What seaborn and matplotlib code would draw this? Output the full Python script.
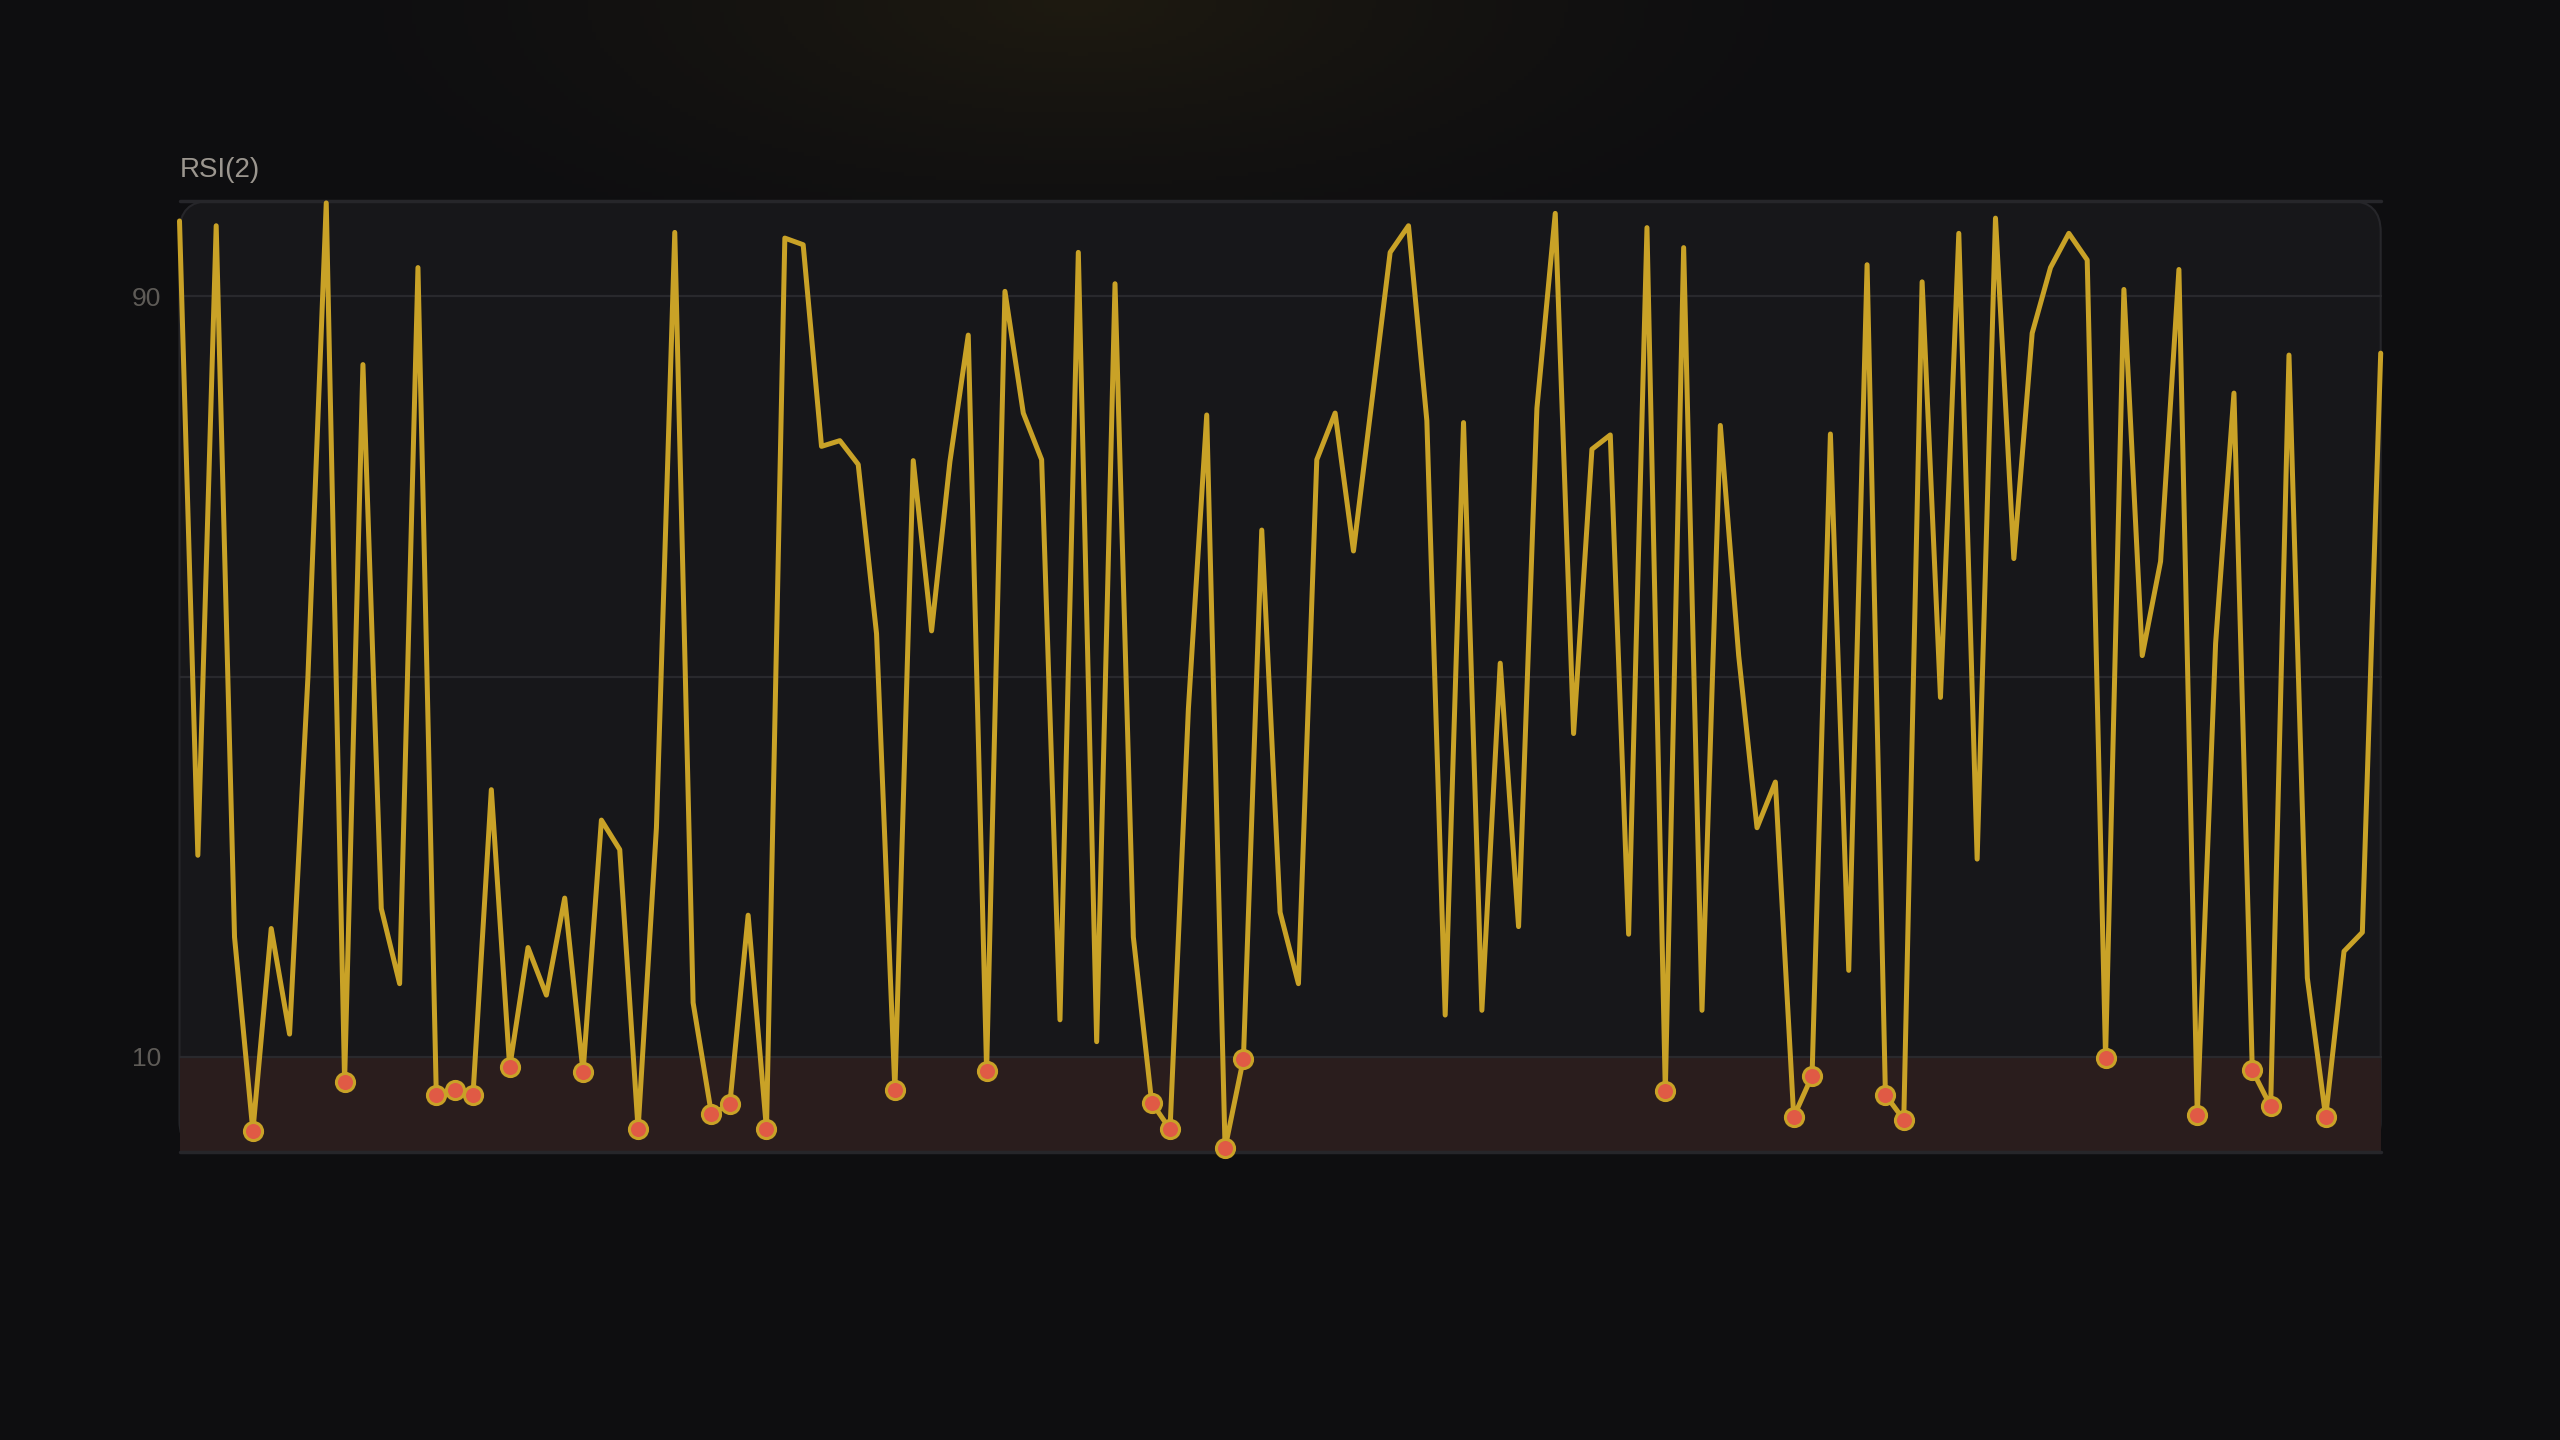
import numpy as np
import pandas as pd
import matplotlib
matplotlib.use("Agg")
import matplotlib.pyplot as plt
from matplotlib.patches import FancyBboxPatch
import seaborn as sns

# RSI(2) readings, one per bar
rsi_values = [
    97.9, 31.2, 97.4, 22.6, 2.2, 23.5, 12.4, 49.9, 99.8, 7.4,
    82.8, 25.6, 17.7, 93.0, 6.0, 6.5, 6.0, 38.1, 8.9, 21.5,
    16.5, 26.7, 8.4, 34.9, 31.8, 2.4, 34.1, 96.7, 15.7, 4.0,
    5.0, 24.9, 2.4, 96.1, 95.4, 74.2, 74.8, 72.3, 54.5, 6.5,
    72.7, 54.8, 72.6, 85.9, 8.5, 90.5, 77.7, 72.8, 13.9, 94.6,
    11.6, 91.3, 22.6, 5.2, 2.4, 46.6, 77.5, 0.4, 9.8, 65.4,
    25.2, 17.7, 72.8, 77.7, 63.2, 78.9, 94.6, 97.4, 76.9, 14.4,
    76.7, 14.9, 51.4, 23.7, 78.2, 98.7, 44.0, 73.9, 75.4, 22.9,
    97.2, 6.4, 95.1, 14.9, 76.4, 52.2, 34.1, 38.9, 3.7, 8.0,
    75.5, 19.1, 93.3, 6.0, 3.4, 91.5, 47.8, 96.6, 30.8, 98.2,
    62.4, 86.1, 93.0, 96.6, 93.8, 9.9, 90.7, 52.2, 62.1, 92.8,
    3.9, 53.5, 79.8, 8.6, 4.8, 83.8, 18.3, 3.7, 21.1, 23.1,
    84.0,
]
oversold_level = 10
ytick_values = [10, 90]
title_text = "RSI(2)"

df = pd.DataFrame({"bar": np.arange(len(rsi_values)), "rsi": rsi_values})
hits = df[df["rsi"] <= oversold_level]

BG = "#0e0e10"
PANEL = "#17171a"
ZONE = "#2a1d1d"
GRID = "#29292d"
LINE = "#c9a227"
DOT = "#e05a45"

sns.set_theme(style="dark")
plt.rcParams["font.family"] = ["Liberation Sans", "DejaVu Sans"]

fig = plt.figure(figsize=(25.6, 14.4), dpi=100)
fig.patch.set_facecolor(BG)

# soft warm glow at the top of the page
bg = fig.add_axes([0, 0, 1, 1], zorder=-10)
h, w = 360, 640
yy, xx = np.mgrid[0:h, 0:w]
d = np.sqrt(((xx / w - 0.42) / 0.33) ** 2 + ((yy / h - 0.0) / 0.22) ** 2)
glow = np.clip(1 - d, 0, 1) ** 1.6
base = np.array([14, 14, 16]) / 255
warm = np.array([30, 26, 17]) / 255
img = base + glow[..., None] * (warm - base)
bg.imshow(img, aspect="auto", extent=[0, 1, 0, 1])
bg.set_axis_off()

left, right = 179.5 / 2560, 2380.7 / 2560
bottom, top = 1 - 1152 / 1440, 1 - 201 / 1440
ax = fig.add_axes([left, bottom, right - left, top - bottom])
ax.set_facecolor("none")

# rounded panel behind the plot
panel = FancyBboxPatch((left, bottom), right - left, top - bottom,
                       boxstyle="round,pad=0,rounding_size=0.012",
                       transform=fig.transFigure, facecolor=PANEL,
                       edgecolor="#26262a", linewidth=1.5, zorder=-5,
                       mutation_aspect=1.78)
fig.patches.append(panel)

ax.axhspan(0, oversold_level, color=ZONE, zorder=0, lw=0)
for yv in [oversold_level, 50, 90]:
    ax.axhline(yv, color=GRID, lw=1.6, zorder=1)
ax.axhline(100, color="#26262a", lw=2.5, zorder=1)
ax.axhline(0, color="#26262a", lw=2.5, zorder=1)

sns.lineplot(data=df, x="bar", y="rsi", ax=ax, color=LINE, lw=3.6,
             sort=False, zorder=3, solid_joinstyle="round",
             solid_capstyle="round")
sns.scatterplot(data=hits, x="bar", y="rsi", ax=ax, color=DOT, s=170,
                edgecolor=LINE, linewidth=2.2, zorder=4)
for coll in ax.collections:
    coll.set_clip_on(False)
for ln in ax.lines:
    ln.set_clip_on(False)

ax.set_xlim(0, len(rsi_values) - 1)
ax.set_ylim(0, 100)
ax.set_xticks([])
ax.set_yticks(ytick_values)
ax.set_yticklabels([str(v) for v in ytick_values], color="#5e5b57", fontsize=19)
ax.tick_params(axis="y", length=0, pad=13)
ax.set_xlabel("")
ax.set_ylabel("")
ax.grid(False)
for s in ax.spines.values():
    s.set_visible(False)

fig.text(left, 1 - 170 / 1440, title_text, color="#9b968f", fontsize=20,
         ha="left", va="center")

fig.savefig("out.png", dpi=100, facecolor=BG)
